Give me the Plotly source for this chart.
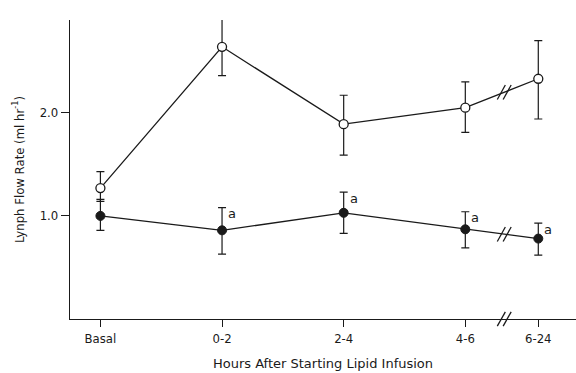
import plotly.graph_objects as go

categories = ["Basal", "0-2", "2-4", "4-6", "6-24"]
x_pos = [0, 1, 2, 3, 3.6]
break_x = 3.32

open_y = [1.27, 2.64, 1.89, 2.05, 2.33]
open_hi = [1.43, 2.93, 2.17, 2.30, 2.70]
open_lo = [1.14, 2.36, 1.59, 1.81, 1.94]

filled_y = [1.00, 0.86, 1.03, 0.87, 0.78]
filled_hi = [1.16, 1.08, 1.23, 1.04, 0.93]
filled_lo = [0.86, 0.63, 0.83, 0.69, 0.62]

sig_flags = [False, True, True, True, True]

ink = "#1a1a1a"
cond = "DejaVu Sans Condensed, Liberation Sans Narrow, DejaVu Sans, sans-serif"
wide = "DejaVu Sans, sans-serif"

def err(y, hi, lo):
    return ([h - v for h, v in zip(hi, y)], [v - l for v, l in zip(y, lo)])

fig = go.Figure()

up, dn = err(open_y, open_hi, open_lo)
fig.add_trace(go.Scatter(
    x=x_pos, y=open_y, mode="lines+markers",
    line=dict(color=ink, width=1.3),
    marker=dict(symbol="circle", size=9, color="white", line=dict(color=ink, width=1.3)),
    error_y=dict(type="data", array=up, arrayminus=dn, color=ink, thickness=1.2, width=4),
    showlegend=False, cliponaxis=False))

up, dn = err(filled_y, filled_hi, filled_lo)
fig.add_trace(go.Scatter(
    x=x_pos, y=filled_y, mode="lines+markers",
    line=dict(color=ink, width=1.3),
    marker=dict(symbol="circle", size=9, color=ink, line=dict(color=ink, width=1)),
    error_y=dict(type="data", array=up, arrayminus=dn, color=ink, thickness=1.2, width=4),
    showlegend=False, cliponaxis=False))

# significance letters
for xp, hi, flag in zip(x_pos, filled_hi, sig_flags):
    if flag:
        fig.add_annotation(x=xp, y=hi, text="a", showarrow=False, xanchor="left",
                           yanchor="middle", xshift=4, yshift=-6,
                           font=dict(family=wide, size=13, color=ink))

# break marks on the two series lines and on the axis
def interp(series):
    x0, x1 = x_pos[3], x_pos[4]
    y0, y1 = series[3], series[4]
    return y0 + (y1 - y0) * (break_x - x0) / (x1 - x0)

def add_break(yc, yref="y", half=0.07):
    for dx in (-0.024, 0.024):
        fig.add_shape(type="line", xref="x", yref=yref,
                      x0=break_x + dx - 0.033, x1=break_x + dx + 0.033,
                      y0=yc - half, y1=yc + half,
                      line=dict(color=ink, width=1.3))

add_break(interp(open_y))
add_break(interp(filled_y))
add_break(0, yref="paper", half=0.024)

fig.update_layout(
    width=576, height=373,
    margin=dict(l=70, r=0, t=20, b=54),
    paper_bgcolor="white", plot_bgcolor="white",
    font=dict(family=cond, size=13, color=ink),
    xaxis=dict(range=[-0.25, 3.91], tickvals=x_pos, ticktext=categories,
               showgrid=False, zeroline=False, showline=True, linecolor=ink, linewidth=1.3,
               ticks="outside", ticklen=7, tickwidth=1.2, tickcolor=ink,
               tickfont=dict(family=cond, size=13),
               title=dict(text="Hours After Starting Lipid Infusion",
                          font=dict(family=wide, size=13), standoff=14)),
    yaxis=dict(range=[0, 2.9], tickvals=[1.0, 2.0], ticktext=["1.0", "2.0"],
               showgrid=False, zeroline=False, showline=True, linecolor=ink, linewidth=1.3,
               ticks="outside", ticklen=8, tickwidth=1.2, tickcolor=ink,
               tickfont=dict(family=cond, size=13),
               title=dict(text="Lynph Flow Rate (ml hr<sup>-1</sup>)",
                          font=dict(family=cond, size=13), standoff=12)),
)

fig.write_html("out.html")
